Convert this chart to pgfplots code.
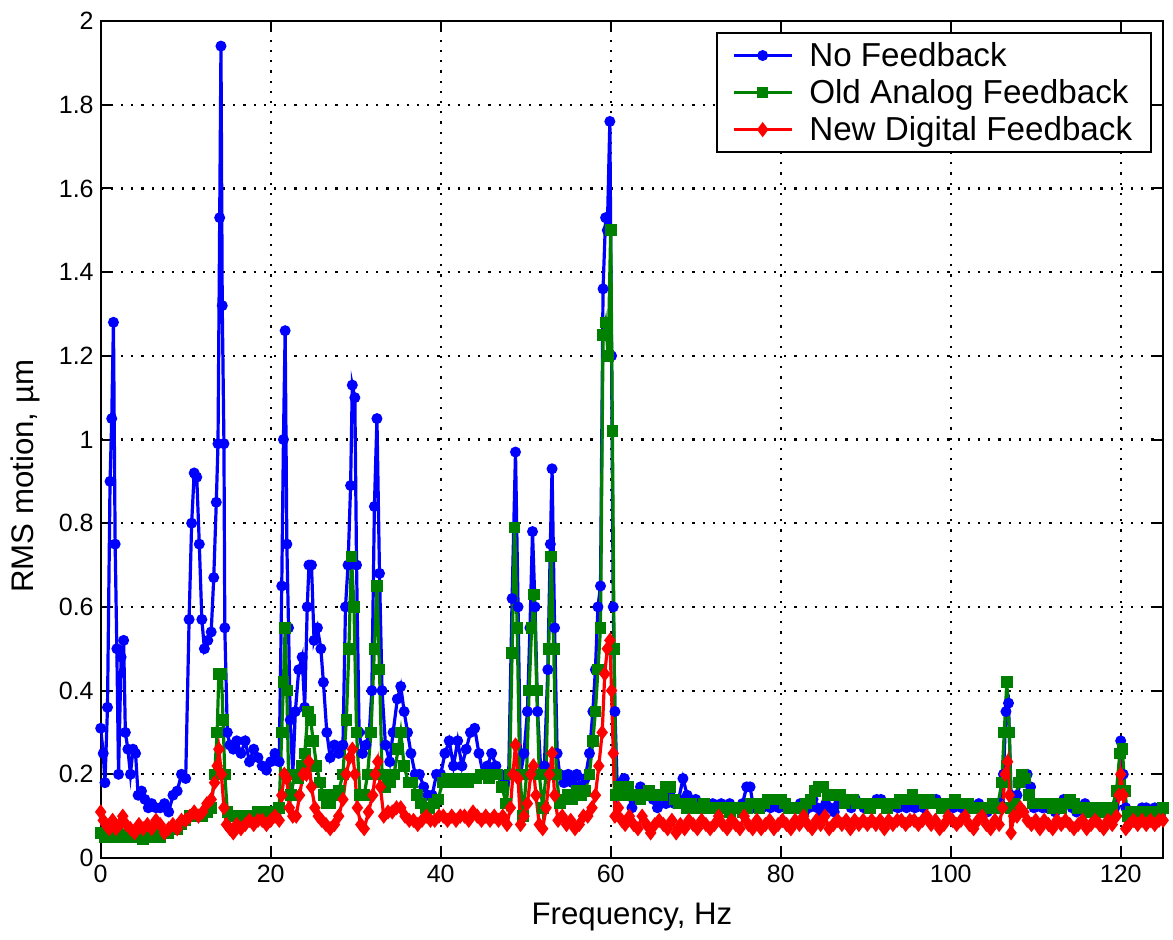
\documentclass[border=0pt]{standalone}
\usepackage{pgfplots}
\pgfplotsset{compat=1.18}
\usepackage{fontspec}
\setmainfont{Liberation Sans}
\definecolor{mblue}{RGB}{0,0,255}
\definecolor{mgreen}{RGB}{0,128,0}
\definecolor{mred}{RGB}{255,0,0}
\begin{document}
\begin{tikzpicture}
\begin{axis}[
  scale only axis,
  width=531.25pt, height=418.5pt,
  xmin=0, xmax=125, ymin=0, ymax=2,
  xtick={0,20,40,60,80,100,120},
  ytick={0,0.2,0.4,0.6,0.8,1,1.2,1.4,1.6,1.8,2},
  tick align=inside,
  major tick length=5pt,
  axis line style={line width=1pt},
  every tick/.style={black, line width=1pt},
  grid=major,
  major grid style={black, line width=1.1pt, dash pattern=on 1.1pt off 4pt},
  tick label style={font=\fontsize{12.5}{15}\selectfont},
  /pgf/number format/assume math mode=true,
  xlabel={Frequency, Hz},
  ylabel={RMS motion, µm},
  label style={font=\fontsize{15.6}{19}\selectfont},
  xlabel style={at={(axis description cs:0.5,-0.080)}, anchor=base},
  ylabel style={at={(axis description cs:-0.0637,0.456)}, anchor=base},
  legend style={at={(1,1)}, anchor=north east, xshift=-5.5pt, yshift=-5.5pt,
    draw=black, line width=1pt, font=\fontsize{16.6}{19}\selectfont,
    inner xsep=7.5pt, inner ysep=2.5pt, row sep=1pt, cells={anchor=west},
    /tikz/every odd column/.append style={column sep=6pt}},
  legend image code/.code={\draw[mark repeat=2,mark phase=2] plot coordinates {(0pt,0pt) (14.5pt,0pt) (29pt,0pt)};},
  legend cell align=left,
]
\addplot[mblue, line width=1.6pt, mark=*, mark size=1.9pt, mark options={solid}] coordinates {
(0,0.31)(0.3,0.25)(0.5,0.18)(0.8,0.36)(1.1,0.9)(1.3,1.05)(1.5,1.28)(1.7,0.75)(1.9,0.5)(2.1,0.2)(2.4,0.48)(2.7,0.52)(2.9,0.3)(3.2,0.26)(3.5,0.2)(3.8,0.26)(4.1,0.25)(4.4,0.15)(4.8,0.16)(5.2,0.14)(5.6,0.12)(6.0,0.13)(6.5,0.12)(7.0,0.12)(7.5,0.13)(8.0,0.11)(8.5,0.15)(9.0,0.16)(9.5,0.2)(10.0,0.19)(10.4,0.57)(10.7,0.8)(11.0,0.92)(11.3,0.91)(11.6,0.75)(11.9,0.57)(12.2,0.5)(12.6,0.52)(13.0,0.54)(13.3,0.67)(13.6,0.85)(13.8,0.99)(14.0,1.53)(14.15,1.94)(14.3,1.32)(14.5,0.99)(14.6,0.55)(14.9,0.3)(15.2,0.27)(15.6,0.26)(16.0,0.28)(16.5,0.25)(17.0,0.28)(17.5,0.23)(18.0,0.26)(18.5,0.24)(19.0,0.22)(19.5,0.21)(20.0,0.23)(20.5,0.25)(21.0,0.23)(21.3,0.65)(21.5,1.0)(21.7,1.26)(21.9,0.75)(22.1,0.55)(22.3,0.33)(22.6,0.2)(22.9,0.35)(23.3,0.45)(23.7,0.48)(24.0,0.36)(24.3,0.6)(24.5,0.7)(24.8,0.7)(25.1,0.52)(25.5,0.55)(25.9,0.5)(26.2,0.42)(26.6,0.3)(27.0,0.24)(27.5,0.27)(28.0,0.25)(28.5,0.27)(28.8,0.6)(29.1,0.7)(29.4,0.89)(29.6,1.13)(29.9,1.1)(30.1,0.7)(30.4,0.3)(30.8,0.25)(31.2,0.27)(31.6,0.3)(31.9,0.4)(32.2,0.84)(32.5,1.05)(32.8,0.68)(33.1,0.4)(33.5,0.27)(34.0,0.23)(34.4,0.3)(34.9,0.38)(35.3,0.41)(35.7,0.35)(36.1,0.3)(36.5,0.25)(37.0,0.2)(37.5,0.2)(38.0,0.17)(38.5,0.15)(39.0,0.15)(39.5,0.2)(40.0,0.2)(40.5,0.25)(41.0,0.28)(41.5,0.22)(42.0,0.28)(42.5,0.22)(43.0,0.26)(43.5,0.3)(44.0,0.31)(44.5,0.25)(45.0,0.2)(45.5,0.22)(46.0,0.25)(46.5,0.22)(47.0,0.2)(47.5,0.18)(48.0,0.2)(48.4,0.62)(48.8,0.97)(49.1,0.6)(49.4,0.2)(49.8,0.25)(50.2,0.35)(50.5,0.55)(50.8,0.78)(51.1,0.6)(51.4,0.35)(51.8,0.2)(52.2,0.22)(52.6,0.45)(52.9,0.75)(53.1,0.93)(53.4,0.55)(53.7,0.25)(54.0,0.2)(54.5,0.18)(55.0,0.2)(55.5,0.18)(56.0,0.2)(56.5,0.17)(57.0,0.19)(57.5,0.25)(57.9,0.35)(58.2,0.45)(58.5,0.6)(58.8,0.65)(59.1,1.36)(59.4,1.53)(59.6,1.5)(59.9,1.76)(60.1,1.2)(60.3,0.6)(60.5,0.35)(60.8,0.15)(61.2,0.18)(61.6,0.19)(62.0,0.16)(62.5,0.12)(63.0,0.15)(63.5,0.17)(64.0,0.15)(64.5,0.16)(65.0,0.14)(65.5,0.12)(66.0,0.15)(66.5,0.13)(67.0,0.15)(67.5,0.13)(68.0,0.14)(68.5,0.19)(69.0,0.15)(69.5,0.13)(70.0,0.14)(70.5,0.12)(71.0,0.13)(71.5,0.12)(72.0,0.13)(72.5,0.12)(73.0,0.13)(73.5,0.12)(74.0,0.13)(74.5,0.12)(75.0,0.12)(75.5,0.13)(76.0,0.17)(76.4,0.17)(76.8,0.12)(77.3,0.13)(77.8,0.12)(78.3,0.13)(78.8,0.12)(79.3,0.13)(79.8,0.12)(80.3,0.13)(80.8,0.12)(81.3,0.12)(81.8,0.12)(82.3,0.13)(82.8,0.11)(83.3,0.12)(83.8,0.14)(84.3,0.12)(84.8,0.11)(85.3,0.13)(85.8,0.12)(86.3,0.11)(86.8,0.13)(87.3,0.14)(87.8,0.13)(88.3,0.12)(88.8,0.14)(89.3,0.13)(89.8,0.12)(90.3,0.13)(90.8,0.13)(91.3,0.14)(91.8,0.14)(92.3,0.13)(92.8,0.12)(93.3,0.13)(93.8,0.12)(94.3,0.13)(94.8,0.12)(95.3,0.13)(95.8,0.12)(96.3,0.13)(96.8,0.12)(97.3,0.13)(97.8,0.14)(98.3,0.14)(98.8,0.13)(99.3,0.12)(99.8,0.13)(100.3,0.12)(100.8,0.13)(101.3,0.12)(101.8,0.13)(102.3,0.12)(102.8,0.12)(103.3,0.13)(103.8,0.12)(104.3,0.11)(104.8,0.12)(105.3,0.12)(105.8,0.13)(106.2,0.2)(106.5,0.35)(106.8,0.37)(107.1,0.15)(107.4,0.12)(107.8,0.15)(108.2,0.18)(108.6,0.2)(109.0,0.2)(109.4,0.17)(109.8,0.12)(110.3,0.13)(110.8,0.12)(111.3,0.12)(111.8,0.12)(112.3,0.11)(112.8,0.13)(113.3,0.14)(113.8,0.13)(114.3,0.12)(114.8,0.11)(115.3,0.12)(115.8,0.13)(116.3,0.12)(116.8,0.12)(117.3,0.11)(117.8,0.12)(118.3,0.11)(118.8,0.12)(119.3,0.12)(119.7,0.16)(120.0,0.28)(120.3,0.2)(120.6,0.12)(121.0,0.11)(121.5,0.1)(122.0,0.11)(122.5,0.12)(123.0,0.12)(123.5,0.11)(124.0,0.12)(124.5,0.12)(125.0,0.12)
};
\addlegendentry{No Feedback}
\addplot[mgreen, line width=1.6pt, mark=square*, mark size=2.1pt, mark options={solid}] coordinates {
(0,0.06)(0.5,0.05)(1.0,0.055)(1.5,0.05)(2.0,0.06)(2.5,0.05)(3.0,0.055)(3.5,0.05)(4.0,0.06)(4.5,0.05)(5.0,0.045)(5.5,0.05)(6.0,0.05)(6.5,0.06)(7.0,0.05)(7.5,0.06)(8.0,0.06)(8.5,0.07)(9.0,0.07)(9.5,0.08)(10.0,0.09)(10.5,0.1)(11.0,0.1)(11.5,0.1)(12.0,0.1)(12.5,0.11)(13.0,0.12)(13.4,0.2)(13.7,0.3)(13.9,0.44)(14.2,0.44)(14.4,0.33)(14.6,0.2)(14.9,0.11)(15.5,0.1)(16.0,0.1)(16.5,0.1)(17.0,0.1)(17.5,0.1)(18.0,0.1)(18.5,0.11)(19.0,0.1)(19.5,0.11)(20.0,0.11)(20.5,0.11)(21.0,0.12)(21.3,0.3)(21.5,0.42)(21.7,0.55)(21.9,0.4)(22.1,0.2)(22.4,0.15)(22.8,0.2)(23.2,0.19)(23.6,0.22)(24.0,0.25)(24.4,0.35)(24.7,0.33)(25.0,0.28)(25.4,0.22)(25.8,0.18)(26.2,0.15)(26.6,0.13)(27.0,0.13)(27.5,0.15)(28.0,0.16)(28.5,0.2)(28.9,0.33)(29.2,0.5)(29.5,0.72)(29.8,0.6)(30.1,0.3)(30.5,0.15)(31.0,0.15)(31.4,0.2)(31.8,0.3)(32.2,0.5)(32.5,0.65)(32.8,0.45)(33.1,0.2)(33.5,0.17)(34.0,0.18)(34.5,0.2)(35.0,0.26)(35.3,0.3)(35.7,0.22)(36.2,0.18)(36.7,0.18)(37.2,0.15)(37.7,0.13)(38.2,0.12)(38.7,0.12)(39.2,0.13)(39.7,0.14)(40.2,0.18)(40.7,0.19)(41.2,0.18)(41.7,0.19)(42.2,0.18)(42.7,0.19)(43.2,0.18)(43.7,0.19)(44.2,0.19)(44.7,0.2)(45.2,0.2)(45.7,0.19)(46.2,0.2)(46.7,0.2)(47.2,0.17)(47.7,0.13)(48.1,0.2)(48.4,0.49)(48.7,0.79)(49.0,0.55)(49.3,0.2)(49.7,0.1)(50.1,0.2)(50.4,0.4)(50.7,0.55)(51.0,0.63)(51.3,0.4)(51.6,0.2)(52.0,0.12)(52.4,0.2)(52.7,0.5)(53.0,0.72)(53.3,0.5)(53.6,0.2)(54.0,0.13)(54.5,0.14)(55.0,0.15)(55.5,0.14)(56.0,0.16)(56.5,0.15)(57.0,0.16)(57.5,0.2)(57.9,0.28)(58.2,0.35)(58.5,0.45)(58.8,0.55)(59.1,1.25)(59.4,1.28)(59.7,1.2)(60.0,1.5)(60.2,1.02)(60.4,0.5)(60.6,0.15)(61.0,0.17)(61.5,0.15)(62.0,0.17)(62.5,0.15)(63.0,0.15)(63.5,0.14)(64.0,0.15)(64.5,0.16)(65.0,0.15)(65.5,0.15)(66.0,0.15)(66.5,0.17)(67.0,0.17)(67.5,0.14)(68.0,0.13)(68.5,0.13)(69.0,0.12)(69.5,0.13)(70.0,0.12)(70.5,0.12)(71.0,0.13)(71.5,0.12)(72.0,0.12)(72.5,0.12)(73.0,0.12)(73.5,0.12)(74.0,0.11)(74.5,0.12)(75.0,0.12)(75.5,0.11)(76.0,0.12)(76.5,0.13)(77.0,0.13)(77.5,0.12)(78.0,0.13)(78.5,0.14)(79.0,0.14)(79.5,0.14)(80.0,0.14)(80.5,0.13)(81.0,0.12)(81.5,0.12)(82.0,0.12)(82.5,0.12)(83.0,0.13)(83.5,0.14)(84.0,0.16)(84.5,0.17)(85.0,0.17)(85.5,0.15)(86.0,0.15)(86.5,0.15)(87.0,0.15)(87.5,0.13)(88.0,0.14)(88.5,0.14)(89.0,0.13)(89.5,0.13)(90.0,0.13)(90.5,0.12)(91.0,0.13)(91.5,0.13)(92.0,0.13)(92.5,0.12)(93.0,0.13)(93.5,0.13)(94.0,0.14)(94.5,0.14)(95.0,0.14)(95.5,0.15)(96.0,0.14)(96.5,0.14)(97.0,0.13)(97.5,0.14)(98.0,0.13)(98.5,0.13)(99.0,0.12)(99.5,0.13)(100.0,0.13)(100.5,0.14)(101.0,0.13)(101.5,0.13)(102.0,0.13)(102.5,0.12)(103.0,0.12)(103.5,0.12)(104.0,0.12)(104.5,0.12)(105.0,0.13)(105.5,0.12)(106.0,0.18)(106.3,0.3)(106.6,0.42)(106.9,0.3)(107.1,0.12)(107.5,0.13)(108.0,0.18)(108.4,0.2)(108.8,0.19)(109.2,0.15)(109.6,0.13)(110.0,0.13)(110.5,0.13)(111.0,0.13)(111.5,0.13)(112.0,0.12)(112.5,0.13)(113.0,0.12)(113.5,0.13)(114.0,0.14)(114.5,0.13)(115.0,0.12)(115.5,0.12)(116.0,0.11)(116.5,0.12)(117.0,0.12)(117.5,0.11)(118.0,0.12)(118.5,0.11)(119.0,0.12)(119.5,0.16)(119.9,0.25)(120.2,0.26)(120.5,0.16)(120.8,0.1)(121.2,0.11)(121.7,0.11)(122.2,0.11)(122.7,0.11)(123.2,0.11)(123.7,0.11)(124.2,0.11)(124.7,0.11)(125.0,0.12)
};
\addlegendentry{Old Analog Feedback}
\addplot[mred, line width=1.6pt, mark=diamond*, mark size=2.5pt, mark options={solid}] coordinates {
(0,0.11)(0.3,0.09)(0.6,0.08)(1.0,0.07)(1.4,0.09)(1.8,0.07)(2.2,0.08)(2.6,0.1)(3.0,0.08)(3.5,0.07)(4.0,0.06)(4.5,0.08)(5.0,0.07)(5.5,0.08)(6.0,0.07)(6.5,0.09)(7.0,0.08)(7.5,0.06)(8.0,0.07)(8.5,0.08)(9.0,0.07)(9.5,0.09)(10.0,0.09)(10.5,0.1)(11.0,0.11)(11.5,0.1)(12.0,0.11)(12.5,0.13)(13.0,0.14)(13.4,0.18)(13.7,0.22)(13.9,0.26)(14.2,0.2)(14.5,0.12)(14.8,0.08)(15.2,0.07)(15.6,0.06)(16.0,0.08)(16.5,0.07)(17.0,0.08)(17.5,0.09)(18.0,0.08)(18.5,0.09)(19.0,0.09)(19.5,0.08)(20.0,0.09)(20.5,0.1)(21.0,0.09)(21.3,0.15)(21.6,0.2)(21.9,0.19)(22.2,0.12)(22.6,0.1)(23.0,0.1)(23.4,0.15)(23.8,0.2)(24.2,0.2)(24.5,0.23)(24.8,0.17)(25.2,0.12)(25.6,0.1)(26.0,0.09)(26.5,0.08)(27.0,0.07)(27.5,0.08)(28.0,0.1)(28.5,0.14)(28.9,0.2)(29.3,0.24)(29.6,0.26)(29.9,0.2)(30.2,0.12)(30.6,0.08)(31.0,0.07)(31.5,0.11)(32.0,0.15)(32.3,0.2)(32.6,0.23)(32.9,0.17)(33.3,0.1)(33.8,0.11)(34.3,0.11)(34.8,0.12)(35.3,0.12)(35.8,0.1)(36.3,0.09)(36.8,0.09)(37.3,0.08)(37.8,0.09)(38.3,0.1)(38.8,0.09)(39.3,0.09)(39.8,0.1)(40.3,0.1)(40.8,0.09)(41.3,0.1)(41.8,0.09)(42.3,0.1)(42.8,0.1)(43.3,0.09)(43.8,0.11)(44.3,0.1)(44.8,0.09)(45.3,0.1)(45.8,0.09)(46.3,0.1)(46.8,0.09)(47.3,0.1)(47.8,0.08)(48.2,0.12)(48.5,0.2)(48.8,0.27)(49.1,0.19)(49.4,0.08)(49.8,0.1)(50.2,0.13)(50.6,0.2)(50.9,0.22)(51.2,0.15)(51.6,0.08)(52.0,0.07)(52.4,0.12)(52.8,0.2)(53.1,0.25)(53.4,0.15)(53.8,0.09)(54.3,0.1)(54.8,0.08)(55.3,0.09)(55.8,0.07)(56.3,0.08)(56.8,0.1)(57.3,0.1)(57.8,0.12)(58.2,0.15)(58.6,0.22)(59.0,0.3)(59.3,0.44)(59.6,0.5)(59.9,0.52)(60.1,0.4)(60.3,0.25)(60.5,0.1)(60.9,0.12)(61.3,0.09)(61.7,0.08)(62.2,0.1)(62.7,0.08)(63.2,0.07)(63.7,0.1)(64.2,0.08)(64.7,0.06)(65.2,0.08)(65.7,0.09)(66.2,0.08)(66.7,0.07)(67.2,0.09)(67.7,0.06)(68.2,0.08)(68.7,0.07)(69.2,0.09)(69.7,0.08)(70.2,0.07)(70.7,0.09)(71.2,0.08)(71.7,0.07)(72.2,0.08)(72.7,0.1)(73.2,0.08)(73.7,0.07)(74.2,0.09)(74.7,0.08)(75.2,0.07)(75.7,0.1)(76.2,0.08)(76.7,0.07)(77.2,0.09)(77.7,0.07)(78.2,0.08)(78.7,0.09)(79.2,0.07)(79.7,0.08)(80.2,0.09)(80.7,0.08)(81.2,0.07)(81.7,0.09)(82.2,0.08)(82.7,0.1)(83.2,0.08)(83.7,0.07)(84.2,0.09)(84.7,0.08)(85.2,0.1)(85.7,0.07)(86.2,0.08)(86.7,0.09)(87.2,0.08)(87.7,0.09)(88.2,0.07)(88.7,0.09)(89.2,0.08)(89.7,0.09)(90.2,0.08)(90.7,0.09)(91.2,0.08)(91.7,0.09)(92.2,0.07)(92.7,0.09)(93.2,0.08)(93.7,0.09)(94.2,0.09)(94.7,0.08)(95.2,0.09)(95.7,0.09)(96.2,0.08)(96.7,0.09)(97.2,0.1)(97.7,0.08)(98.2,0.09)(98.7,0.07)(99.2,0.08)(99.7,0.1)(100.2,0.09)(100.7,0.08)(101.2,0.09)(101.7,0.1)(102.2,0.08)(102.7,0.07)(103.2,0.09)(103.7,0.1)(104.2,0.08)(104.7,0.07)(105.2,0.09)(105.7,0.08)(106.1,0.12)(106.4,0.2)(106.7,0.23)(106.9,0.15)(107.1,0.06)(107.4,0.1)(107.8,0.1)(108.2,0.12)(108.6,0.11)(109.0,0.09)(109.5,0.08)(110.0,0.09)(110.5,0.07)(111.0,0.09)(111.5,0.08)(112.0,0.07)(112.5,0.09)(113.0,0.08)(113.5,0.09)(114.0,0.08)(114.5,0.07)(115.0,0.08)(115.5,0.09)(116.0,0.07)(116.5,0.08)(117.0,0.09)(117.5,0.08)(118.0,0.07)(118.5,0.09)(119.0,0.08)(119.5,0.1)(119.8,0.15)(120.0,0.2)(120.3,0.15)(120.6,0.07)(121.0,0.08)(121.5,0.09)(122.0,0.08)(122.5,0.09)(123.0,0.08)(123.5,0.09)(124.0,0.08)(124.5,0.09)(125.0,0.09)
};
\addlegendentry{New Digital Feedback}
\end{axis}
\pgfresetboundingbox
\path[use as bounding box] ([xshift=-50.35pt,yshift=-40.5pt]current axis.south west) rectangle ([xshift=4.9pt,yshift=10.5pt]current axis.north east);
\end{tikzpicture}
\end{document}
